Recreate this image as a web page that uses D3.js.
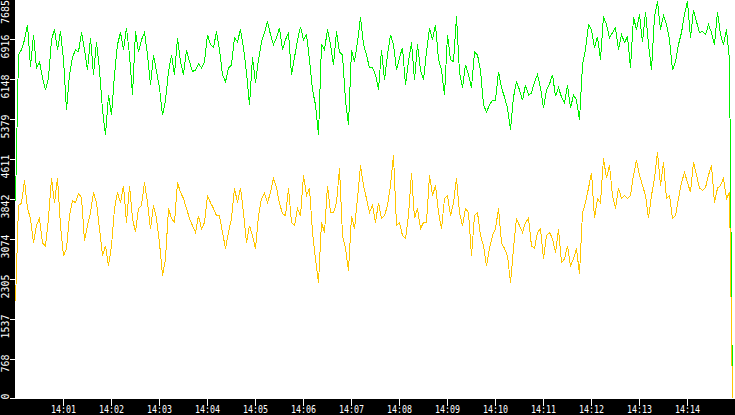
<!DOCTYPE html>
<html lang="en">
<head>
	<meta charset="utf-8">
	<title>Traffic</title>
	<script src="https://cdn.jsdelivr.net/npm/d3@7"></script>
	<style type="text/css">
		body {
			margin: 0;
			background: #000;
		}
		svg {
			display: block;
		}
		text {
			font-family: "DejaVu Sans Mono", monospace;
			font-size: 10px;
			fill: #fff;
		}
	</style>
</head>
<body>
	<script type="text/javascript">
		//Width and height
		var w = 735;
		var h = 415;

		//Plot box
		var left = 15;
		var bottom = 399;

		//Series sampled every 3.75 s from 14:00:00
		var startLabel = "14:00";
		var endLabel = "14:15";
		var stepMs = 3750;

		var greenValues = [
			3820, 6620, 6720, 6910, 7200, 6390, 7010, 6370, 6490, 6180,
			5950, 6180, 6910, 7110, 6720, 7070, 6530, 5560, 6240, 6570,
			6720, 6680, 7050, 6720, 6330, 6950, 6240, 6870, 6330, 5560,
			5080, 5850, 5460, 6240, 6820, 7050, 6720, 7140, 6620, 5850,
			7070, 6680, 6910, 7050, 6620, 6040, 6620, 6300, 5990, 5460,
			5750, 6300, 6620, 6240, 6950, 6490, 6240, 6720, 6490, 6300,
			6330, 6450, 6370, 6490, 7010, 6820, 6760, 7070, 6720, 6240,
			6100, 6370, 6430, 6950, 6870, 7110, 6760, 6280, 5660, 6570,
			6080, 6530, 6870, 7050, 7260, 7010, 6820, 6950, 7140, 6720,
			6910, 7050, 6240, 6570, 6910, 7160, 6910, 7010, 6530, 5950,
			5660, 5080, 6820, 6720, 7110, 6820, 6430, 7070, 6680, 6620,
			5750, 5270, 6720, 6490, 6870, 7340, 6820, 6620, 6370, 6370,
			6240, 5950, 6720, 6140, 6620, 7010, 6820, 6330, 6570, 6760,
			6040, 6490, 6860, 6140, 6820, 6330, 6140, 6680, 7140, 6910,
			7200, 6530, 6330, 5850, 7010, 6530, 6490, 7360, 6280, 5990,
			6430, 6240, 5990, 6680, 6620, 6330, 5660, 5520, 5660, 5750,
			5750, 6300, 5990, 5810, 5600, 5180, 5810, 6100, 5950, 5750,
			6040, 5850, 5890, 6100, 6240, 5990, 5600, 5950, 6060, 6240,
			5830, 5990, 5810, 5700, 6040, 5600, 5850, 5750, 5370, 6430,
			6720, 7200, 7110, 6760, 6970, 6530, 7360, 7200, 6950, 7050,
			7140, 6720, 7010, 6860, 6970, 6370, 7340, 7110, 7400, 6860,
			7450, 6820, 6330, 7360, 7650, 7110, 7380, 7200, 6910, 6330,
			6490, 6820, 7050, 7400, 7650, 6950, 7490, 7260, 7050, 7070,
			7010, 7200, 7050, 6820, 7450, 7010, 6820, 7110, 6530, 0
		];

		var yellowValues = [
			1890, 3730, 3770, 4210, 3670, 3480, 3010, 3340, 3480, 3010,
			2950, 3480, 4250, 3780, 4250, 3340, 2760, 2900, 3530, 3820,
			3780, 3960, 3880, 3050, 3340, 3590, 3980, 3780, 3280, 2760,
			2950, 2570, 2950, 3670, 3980, 3780, 4110, 3400, 4110, 3480,
			3210, 3670, 3730, 4170, 3780, 3280, 3730, 3480, 3010, 2380,
			2700, 3670, 3480, 3400, 4170, 3980, 3860, 3670, 3480, 3340,
			3210, 3530, 3280, 3400, 3920, 3780, 3670, 3530, 3530, 3210,
			2900, 3210, 3480, 4060, 3780, 4060, 3590, 3010, 3340, 3150,
			2900, 3530, 3860, 3960, 3780, 3980, 4250, 4070, 3770, 3570,
			3530, 4060, 3400, 3340, 3670, 3530, 4310, 3920, 4060, 3210,
			2700, 2240, 3400, 3210, 4110, 3590, 3590, 3780, 4440, 3150,
			2900, 2470, 3530, 3280, 3860, 4500, 4110, 3860, 3590, 3730,
			3400, 3780, 3480, 3530, 3730, 4110, 4690, 3340, 3400, 3150,
			3090, 3530, 4360, 3480, 3670, 3280, 3400, 3400, 4310, 3920,
			4110, 3590, 3280, 3860, 3920, 3530, 3780, 4250, 3590, 3340,
			3670, 3590, 2760, 3530, 3590, 3150, 2950, 2570, 2900, 3150,
			3280, 3670, 3010, 2900, 2760, 2240, 2900, 3480, 3340, 3210,
			3400, 3480, 2950, 2900, 3210, 3280, 2700, 3150, 3210, 3090,
			2820, 3280, 2630, 2700, 2950, 2570, 2700, 2900, 2410, 3590,
			3780, 4060, 4360, 3480, 3860, 3780, 4630, 4250, 4500, 3920,
			3670, 4060, 3860, 3920, 3860, 3920, 4310, 4600, 4310, 4110,
			3920, 3480, 3920, 4250, 4750, 4110, 4560, 3860, 3920, 3480,
			3530, 3860, 4170, 4360, 4170, 3980, 4560, 4310, 4060, 4020,
			4070, 4310, 4500, 3780, 4060, 4110, 4250, 3860, 3980, 0
		];

		//Axis labels
		var yTicks = [0, 768, 1537, 2305, 3074, 3842, 4611, 5379, 6148, 6916, 7685];
		var xTicks = ["14:01", "14:02", "14:03", "14:04", "14:05", "14:06", "14:07",
			"14:08", "14:09", "14:10", "14:11", "14:12", "14:13", "14:14"];

		var parseTime = d3.timeParse("%H:%M");
		var t0 = parseTime(startLabel);

		//Turn value lists into time rows
		var toRows = function(values) {
			return values.map(function(v, i) {
				return { time: new Date(t0.getTime() + i * stepMs), value: v };
			});
		};
		var green = toRows(greenValues);
		var yellow = toRows(yellowValues);

		var x = d3.scaleTime()
			.domain([t0, parseTime(endLabel)])
			.range([left + 0.5, w + 0.5]);

		var y = d3.scaleLinear()
			.domain([0, 7685])
			.range([bottom + 0.5, -0.5]);

		var svg = d3.select("body")
			.append("svg")
			.attr("width", w)
			.attr("height", h);

		svg.append("rect")
			.attr("width", w)
			.attr("height", h)
			.attr("fill", "#000");

		//White plot area
		svg.append("rect")
			.attr("x", left)
			.attr("y", 0)
			.attr("width", w - left)
			.attr("height", bottom)
			.attr("fill", "#fff");

		svg.append("clipPath")
			.attr("id", "plot")
			.append("rect")
			.attr("x", left)
			.attr("y", 0)
			.attr("width", w - left)
			.attr("height", bottom);

		var line = d3.line()
			.x(function(d) { return x(d.time); })
			.y(function(d) { return y(d.value); });

		var lines = svg.append("g")
			.attr("clip-path", "url(#plot)");

		lines.append("path")
			.datum(green)
			.attr("d", line)
			.attr("fill", "none")
			.attr("stroke", "#00f000")
			.attr("stroke-width", 1)
			.attr("shape-rendering", "crispEdges");

		lines.append("path")
			.datum(yellow)
			.attr("d", line)
			.attr("fill", "none")
			.attr("stroke", "#ffc600")
			.attr("stroke-width", 1)
			.attr("shape-rendering", "crispEdges");

		//Bottom axis line
		svg.append("line")
			.attr("x1", 10)
			.attr("x2", w)
			.attr("y1", bottom - 0.5)
			.attr("y2", bottom - 0.5)
			.attr("stroke", "#fff")
			.attr("shape-rendering", "crispEdges");

		//Y ticks and rotated labels
		var yg = svg.append("g");
		yTicks.forEach(function(v) {
			var py = Math.min(Math.floor(y(v)), bottom - 1) + 0.5;
			yg.append("line")
				.attr("x1", 10)
				.attr("x2", left)
				.attr("y1", py)
				.attr("y2", py)
				.attr("stroke", "#fff")
				.attr("shape-rendering", "crispEdges");
			yg.append("text")
				.attr("transform", "translate(9," + Math.max(0, py - 5) + ") rotate(-90)")
				.attr("text-anchor", "end")
				.text(v);
		});

		//X ticks and labels
		var xg = svg.append("g");
		xTicks.forEach(function(s) {
			var px = Math.floor(x(parseTime(s))) + 0.5;
			xg.append("line")
				.attr("x1", px)
				.attr("x2", px)
				.attr("y1", bottom)
				.attr("y2", bottom + 7)
				.attr("stroke", "#fff")
				.attr("shape-rendering", "crispEdges");
			xg.append("text")
				.attr("x", px)
				.attr("y", 413)
				.attr("text-anchor", "middle")
				.attr("textLength", 25)
				.attr("lengthAdjust", "spacingAndGlyphs")
				.text(s);
		});
	</script>
</body>
</html>
